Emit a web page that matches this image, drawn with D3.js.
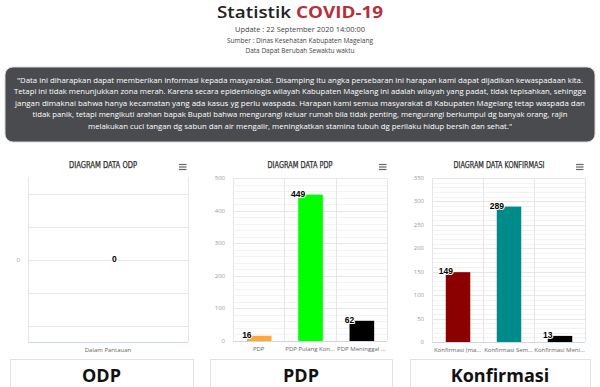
<!DOCTYPE html>
<html><head><meta charset="utf-8">
<script src="https://cdn.jsdelivr.net/npm/d3@7"></script>
<style>
html,body{margin:0;padding:0;background:#fff;}
svg{display:block;}
</style></head>
<body>
<script>
// ---- data ----
const odpCategories = ["Dalam Pantauan"];
const odpValues = [0];
const odpTickLabels = ["0"];

const pdpCategories = ["PDP", "PDP Pulang Kon...", "PDP Meninggal ..."];
const pdpValues = [16, 449, 62];
const pdpTicks = [0, 100, 200, 300, 400, 500];

const konfCategories = ["Konfirmasi (ma...", "Konfirmasi Sem...", "Konfirmasi Meni..."];
const konfValues = [149, 289, 13];
const konfTicks = [0, 50, 100, 150, 200, 250, 300, 350];

const cardLabels = ["ODP", "PDP", "Konfirmasi"];
const chartTitles = ["DIAGRAM DATA ODP", "DIAGRAM DATA PDP", "DIAGRAM DATA KONFIRMASI"];

const descLines = [
  "\"Data ini diharapkan dapat memberikan informasi kepada masyarakat. Disamping itu angka persebaran ini harapan kami dapat dijadikan kewaspadaan kita.",
  "Tetapi ini tidak menunjukkan zona merah. Karena secara epidemiologis wilayah Kabupaten Magelang ini adalah wilayah yang padat, tidak tepisahkan, sehingga",
  "jangan dimaknai bahwa hanya kecamatan yang ada kasus yg perlu waspada. Harapan kami semua masyarakat di Kabupaten Magelang tetap waspada dan",
  "tidak panik, tetapi mengikuti arahan bapak Bupati bahwa mengurangi keluar rumah bila tidak penting, mengurangi berkumpul dg banyak orang, rajin",
  "melakukan cuci tangan dg sabun dan air mengalir, meningkatkan stamina tubuh dg perilaku hidup bersih dan sehat.\""
];

// ---- drawing ----
const W = 600, H = 387;
const FONT = "'Open Sans', 'Noto Sans', sans-serif";
const svg = d3.select("body").append("svg").attr("width", W).attr("height", H);

// header
const t = svg.append("text").attr("x", 300).attr("y", 17.5).attr("text-anchor", "middle")
  .attr("font-family", FONT).attr("font-size", 16.5).attr("textLength", 166).attr("lengthAdjust", "spacingAndGlyphs");
t.append("tspan").attr("fill", "#222").attr("font-weight", 600).text("Statistik ");
t.append("tspan").attr("fill", "#b5313a").attr("font-weight", 700).text("COVID-19");

const sub = [
  {txt: "Update : 22 September 2020 14:00:00", y: 31.5, fs: 8, w: 130},
  {txt: "Sumber : Dinas Kesehatan Kabupaten Magelang", y: 42.5, fs: 7, w: 146},
  {txt: "Data Dapat Berubah Sewaktu waktu", y: 53, fs: 7, w: 109}
];
svg.selectAll("text.sub").data(sub).join("text").attr("class", "sub")
  .attr("x", 300).attr("y", d => d.y).attr("text-anchor", "middle")
  .attr("font-family", FONT).attr("font-size", d => d.fs).attr("fill", "#444")
  .attr("textLength", d => d.w).attr("lengthAdjust", "spacingAndGlyphs").text(d => d.txt);

// description box
svg.append("rect").attr("x", 5).attr("y", 67).attr("width", 590).attr("height", 75)
  .attr("rx", 8).attr("fill", "#4a4b4f").attr("stroke", "#d9d9d9").attr("stroke-width", 1);
const descWidths = [566, 572, 570, 535, 424];
svg.selectAll("text.desc").data(descLines).join("text").attr("class", "desc")
  .attr("x", 300).attr("y", (d, i) => 82.5 + i * 11.6).attr("text-anchor", "middle")
  .attr("font-family", FONT).attr("font-size", 7).attr("fill", "#fff")
  .attr("textLength", (d, i) => descWidths[i]).attr("lengthAdjust", "spacingAndGlyphs").text(d => d);

function drawChart(cfg) {
  const g = svg.append("g");
  const x = d3.scaleBand().domain(cfg.categories).range([cfg.left, cfg.right]);
  const y = d3.scaleLinear().domain(cfg.yDomain).range([cfg.bottom, cfg.top]);
  const bw = x.bandwidth();

  // minor grid
  if (cfg.minorStep) {
    const minors = d3.range(cfg.yDomain[0], cfg.yDomain[1] + 1e-9, cfg.minorStep);
    g.selectAll("line.minor").data(minors).join("line")
      .attr("x1", cfg.left).attr("x2", cfg.right)
      .attr("y1", d => Math.round(y(d)) + 0.5).attr("y2", d => Math.round(y(d)) + 0.5)
      .attr("stroke", "#f3f3f3").attr("stroke-width", 1);
  }
  // major grid
  g.selectAll("line.major").data(cfg.gridTicks).join("line")
    .attr("x1", cfg.left).attr("x2", cfg.right)
    .attr("y1", d => Math.round(y(d)) + 0.5).attr("y2", d => Math.round(y(d)) + 0.5)
    .attr("stroke", "#e6e6e6").attr("stroke-width", 1);
  // vertical category lines
  const bounds = cfg.categories.map(c => x(c)).concat([cfg.right]);
  g.selectAll("line.vert").data(bounds).join("line")
    .attr("x1", d => Math.round(d) + 0.5).attr("x2", d => Math.round(d) + 0.5)
    .attr("y1", cfg.top).attr("y2", cfg.bottom)
    .attr("stroke", "#e6e6e6").attr("stroke-width", 1);
  // x axis line
  g.append("line").attr("x1", cfg.left).attr("x2", cfg.right)
    .attr("y1", cfg.bottom + 0.5).attr("y2", cfg.bottom + 0.5)
    .attr("stroke", "#ccd6eb").attr("stroke-width", 1);

  // y labels
  g.selectAll("text.ylab").data(cfg.labelTicks).join("text")
    .attr("x", cfg.left - 8).attr("y", d => y(d.v) + 2)
    .attr("text-anchor", "end").attr("font-family", FONT).attr("font-size", 6)
    .attr("fill", "#999").text(d => d.t);

  // x labels
  g.selectAll("text.xlab").data(cfg.categories).join("text")
    .attr("x", d => x(d) + bw / 2).attr("y", cfg.bottom + 10)
    .attr("text-anchor", "middle").attr("font-family", FONT).attr("font-size", 6)
    .attr("fill", "#666").text(d => d);

  // bars
  const data = cfg.categories.map((c, i) => ({c, v: cfg.values[i], col: cfg.colors[i]}));
  g.selectAll("rect.bar").data(data).join("rect")
    .attr("x", d => x(d.c) + bw * 0.27).attr("width", bw * 0.48)
    .attr("y", d => y(Math.max(0, d.v))).attr("height", d => Math.abs(y(0) - y(d.v)))
    .attr("fill", d => d.col);

  // data labels
  g.selectAll("text.dl").data(data).join("text")
    .attr("x", d => x(d.c) + bw * cfg.labelFrac).attr("y", d => y(d.v) + 2)
    .attr("text-anchor", "middle").attr("font-family", "'Liberation Sans', Arial, sans-serif")
    .attr("font-weight", 700).attr("font-size", 8.5).attr("fill", "#000")
    .attr("stroke", "#fff").attr("stroke-width", 2).attr("paint-order", "stroke")
    .attr("stroke-linejoin", "round").text(d => d.v);

  // title
  g.append("text").attr("x", cfg.titleX).attr("y", 168).attr("text-anchor", "middle")
    .attr("font-family", "'Liberation Sans Narrow', 'DejaVu Sans Condensed', sans-serif")
    .attr("font-weight", 400).attr("font-size", 8).attr("fill", "#333")
    .attr("stroke", "#333").attr("stroke-width", 0.25)
    .attr("textLength", cfg.titleW).attr("lengthAdjust", "spacingAndGlyphs").text(cfg.title);

  // menu icon
  g.selectAll("line.menu").data([0, 1, 2]).join("line")
    .attr("x1", cfg.menuX).attr("x2", cfg.menuX + 7.5)
    .attr("y1", d => 164.5 + d * 2.5).attr("y2", d => 164.5 + d * 2.5)
    .attr("stroke", "#666").attr("stroke-width", 1.2);

  // card
  g.append("rect").attr("x", cfg.cardX + 0.5).attr("y", 359.5).attr("width", cfg.cardW)
    .attr("height", 40).attr("fill", "#fff").attr("stroke", "#e3e3e3").attr("stroke-width", 1);
  g.append("text").attr("x", cfg.cardX + cfg.cardW / 2).attr("y", 381.5).attr("text-anchor", "middle")
    .attr("font-family", FONT).attr("font-weight", 700).attr("font-size", 18)
    .attr("fill", "#111").text(cfg.card);
}

const odpScaleDomain = [-2.5, 2.5];
drawChart({
  categories: odpCategories, values: odpValues, colors: ["#7cb5ec"],
  yDomain: odpScaleDomain,
  gridTicks: d3.scaleLinear().domain(odpScaleDomain).ticks(5),
  labelTicks: odpTickLabels.map(s => ({v: +s, t: s})),
  minorStep: null,
  left: 28, right: 188, top: 177, bottom: 342,
  labelFrac: 0.54,
  title: chartTitles[0], titleX: 103, titleW: 68, menuX: 179,
  card: cardLabels[0], cardX: 10, cardW: 183
});
drawChart({
  categories: pdpCategories, values: pdpValues, colors: ["#ffa838", "#00ff00", "#000000"],
  yDomain: [0, 500], gridTicks: pdpTicks,
  labelTicks: pdpTicks.map(v => ({v, t: String(v)})),
  minorStep: 20,
  left: 233, right: 387, top: 178, bottom: 341,
  labelFrac: 0.27,
  title: chartTitles[1], titleX: 300, titleW: 65, menuX: 379,
  card: cardLabels[1], cardX: 210, cardW: 182
});
drawChart({
  categories: konfCategories, values: konfValues, colors: ["#8b0000", "#008b8b", "#000000"],
  yDomain: [0, 350], gridTicks: konfTicks,
  labelTicks: konfTicks.map(v => ({v, t: String(v)})),
  minorStep: 10,
  left: 432, right: 585, top: 178, bottom: 342,
  labelFrac: 0.27,
  title: chartTitles[2], titleX: 499, titleW: 91, menuX: 576,
  card: cardLabels[2], cardX: 410, cardW: 180
});
</script>
</body></html>
